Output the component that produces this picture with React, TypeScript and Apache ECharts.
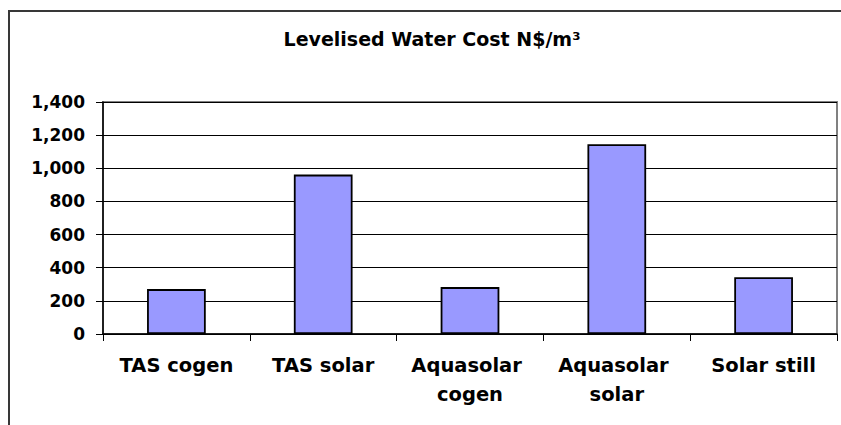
import React, { useEffect, useRef } from "react";
import * as echarts from "echarts";

const categories = ["TAS cogen", "TAS solar", "Aquasolar cogen", "Aquasolar solar", "Solar still"];
const costValues = [271, 962, 283, 1145, 343];
const titleText = "Levelised Water Cost N$/m³";
const yMin = 0;
const yMax = 1400;
const yStep = 200;

export default function App() {
  const ref = useRef<HTMLDivElement>(null);
  useEffect(() => {
    const chart = echarts.init(ref.current!, null, { renderer: "svg" });
    chart.setOption({
      animation: false,
      backgroundColor: "#ffffff",
      textStyle: { fontFamily: "DejaVu Sans" },
      graphic: [
        {
          type: "polyline",
          silent: true,
          z: -1,
          shape: { points: [[841, 11], [9, 11], [9, 425]] },
          style: { fill: "none", stroke: "#383838", lineWidth: 2 },
        },
        {
          type: "text",
          x: 432,
          y: 39,
          style: {
            text: titleText,
            fill: "#000",
            fontFamily: "DejaVu Sans",
            fontWeight: "bold",
            fontSize: 19,
            align: "center",
            verticalAlign: "middle",
          },
        },
      ],
      grid: {
        left: 103,
        right: 4,
        top: 102,
        bottom: 91,
        show: true,
        borderColor: "#808080",
        borderWidth: 2,
        backgroundColor: "transparent",
      },
      xAxis: {
        type: "category",
        data: categories,
        axisLine: { lineStyle: { color: "#000", width: 1.5 } },
        axisTick: { show: true, length: 7, lineStyle: { color: "#000" } },
        axisLabel: {
          interval: 0,
          color: "#000",
          fontFamily: "DejaVu Sans",
          fontWeight: "bold",
          fontSize: 19.5,
          margin: 17,
          lineHeight: 29,
          width: 140,
          overflow: "break",
        },
      },
      yAxis: {
        type: "value",
        min: yMin,
        max: yMax,
        interval: yStep,
        axisLine: { show: true, lineStyle: { color: "#000", width: 1.5 } },
        axisTick: { show: true, length: 7, lineStyle: { color: "#000" } },
        axisLabel: {
          color: "#000",
          fontFamily: "DejaVu Sans",
          fontWeight: "bold",
          fontSize: 17,
          margin: 18,
          formatter: (v: number) => v.toLocaleString("en-US"),
        },
        splitLine: { lineStyle: { color: "#000", width: 1 } },
      },
      series: [
        {
          type: "bar",
          data: costValues,
          barWidth: "40%",
          itemStyle: { color: "#9999FF", borderColor: "#000", borderWidth: 1.8 },
        },
      ],
    });
    return () => chart.dispose();
  }, []);
  return <div ref={ref} style={{ position: "absolute", left: 0, top: 0, width: 841, height: 425 }} />;
}
